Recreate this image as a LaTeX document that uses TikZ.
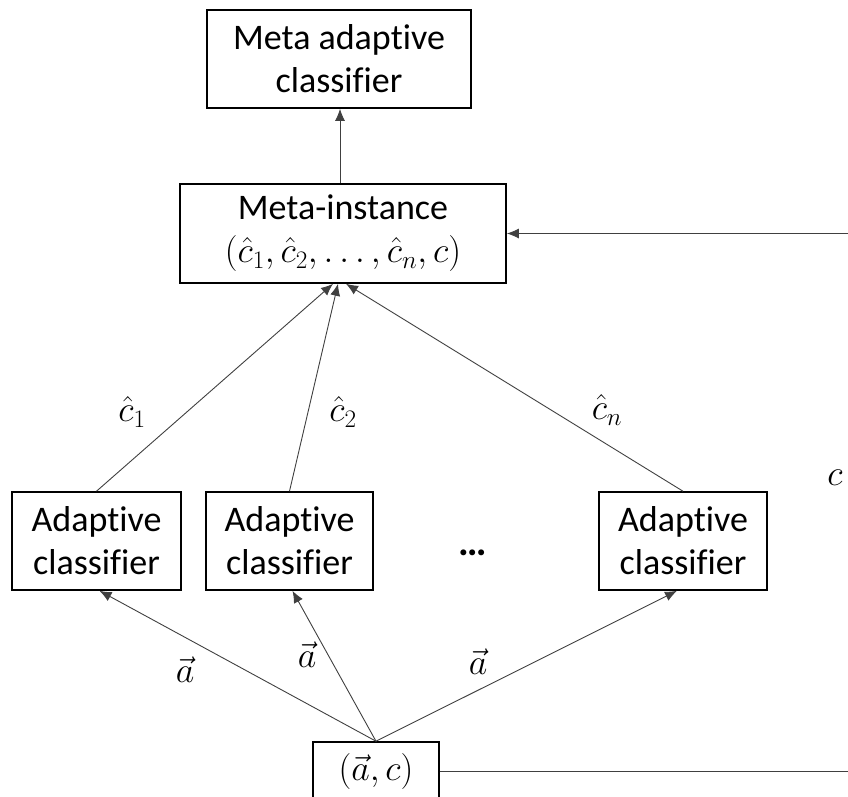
\RequirePackage{fix-cm}
\documentclass[tikz,border=0pt]{standalone}
\usepackage{amsmath}
\usepackage{fontspec}
\setmainfont{Carlito}[Ligatures={NoCommon}]
\usetikzlibrary{arrows.meta}

\tikzset{
	box/.style={draw,line width=1.6pt,align=center,inner sep=0pt},
	flow/.style={draw=black!75,line width=0.9pt},
	tip/.style={-{Latex[length=12pt,width=10pt]}},
}

\begin{document}
\begin{tikzpicture}[x=1pt,y=-1pt,font=\fontsize{36}{43}\selectfont]
				\useasboundingbox (0,0) rectangle (848,796);
				\clip (0,0) rectangle (848,796);
				% boxes
				\node[box,minimum width=264pt,minimum height=98pt] (meta) at (339,59) {Meta adaptive\\classifier};
				\node[box,minimum width=326pt,minimum height=99pt] (inst) at (343,233.5) {Meta-instance\\$(\hat{c}_1,\hat{c}_2,\ldots,\hat{c}_n,c)$};
				\node[box,minimum width=169pt,minimum height=98pt] (ad1) at (96.5,541) {Adaptive\\classifier};
				\node[box,minimum width=167pt,minimum height=98pt] (ad2) at (289.5,541) {Adaptive\\classifier};
				\node[box,minimum width=168pt,minimum height=98pt] (adn) at (683,541) {Adaptive\\classifier};
				\node[box,minimum width=126pt,minimum height=58pt] (in) at (376,771) {$(\vec{a},c)$};
				\node[font=\fontsize{40}{48}\selectfont\bfseries] (dots) at (473,553) {\dots};
				\coordinate (fbin) at (848,233.5);
				\coordinate (fbout) at (848,771);
				% labels
				\node (lc1) at (132,412) {$\hat{c}_1$};
				\node (lc2) at (343,412) {$\hat{c}_2$};
				\node (lcn) at (607,410) {$\hat{c}_n$};
				\node (lc) at (835,478) {$c$};
				\node (la1) at (185,670) {$\vec{a}$};
				\node (la2) at (307,655) {$\vec{a}$};
				\node (lan) at (478,662) {$\vec{a}$};
				% connectors
				\draw[flow,tip] ([xshift=-3pt]inst.north) -- ([xshift=-3pt]inst.north |- meta.south);
				\draw[flow,tip] (ad1.north) -- ([xshift=-10pt]inst.south);
				\draw[flow,tip] (ad2.north) -- ([xshift=-5pt]inst.south);
				\draw[flow,tip] (adn.north) -- ([xshift=3pt]inst.south);
				\draw[flow,tip] (in.north) -- ([xshift=3pt]ad1.south);
				\draw[flow,tip] (in.north) -- ([xshift=3pt]ad2.south);
				\draw[flow,tip] (in.north) -- ([xshift=-6pt]adn.south);
				\draw[flow,tip] (fbin) -- (inst.east);
				\draw[flow] (in.east) -- (fbout);
\end{tikzpicture}
\end{document}
